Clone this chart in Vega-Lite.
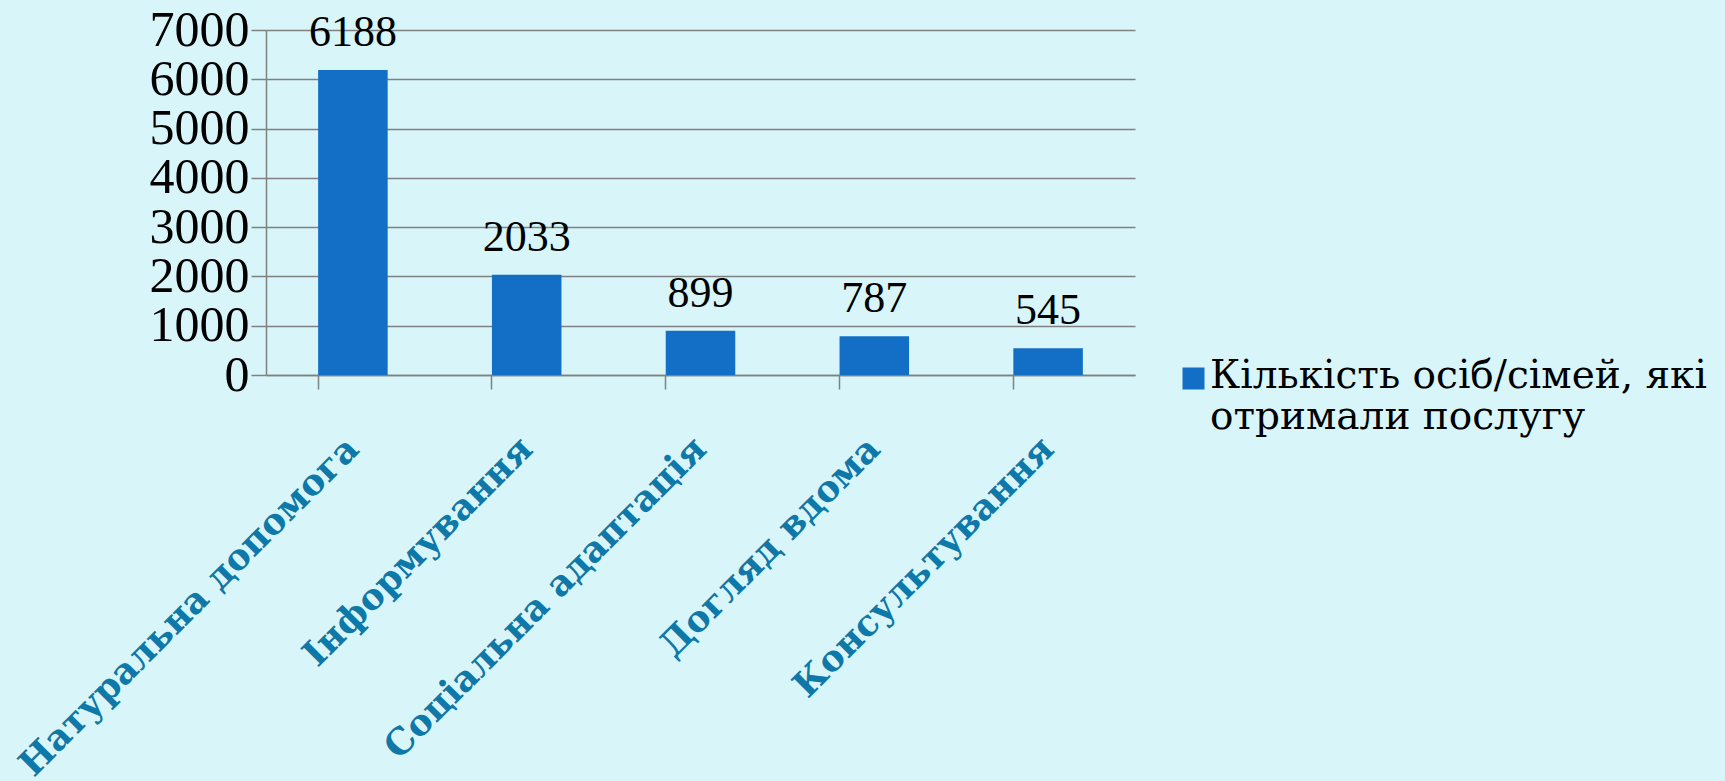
{
  "$schema": "https://vega.github.io/schema/vega-lite/v6.json",
  "autosize": "none",
  "width": 869,
  "height": 345,
  "padding": {"left": 266, "top": 30, "right": 590, "bottom": 406},
  "background": "#D8F6FA",
  "data": {
    "values": [
      {"category": "Натуральна допомога", "value": 6188, "series": "Кількість осіб/сімей, які|отримали послугу"},
      {"category": "Інформування", "value": 2033, "series": "Кількість осіб/сімей, які|отримали послугу"},
      {"category": "Соціальна адаптація", "value": 899, "series": "Кількість осіб/сімей, які|отримали послугу"},
      {"category": "Догляд вдома", "value": 787, "series": "Кількість осіб/сімей, які|отримали послугу"},
      {"category": "Консультування", "value": 545, "series": "Кількість осіб/сімей, які|отримали послугу"}
    ]
  },
  "config": {
    "view": {"stroke": null},
    "font": "Liberation Serif",
    "legend": {"labelFont": "DejaVu Serif"}
  },
  "encoding": {
    "x": {
      "field": "category",
      "type": "nominal",
      "sort": null,
      "scale": {"paddingInner": 0.6, "paddingOuter": 0.3},
      "axis": {
        "title": null,
        "labelAngle": -45,
        "labelAlign": "right",
        "labelBaseline": "middle",
        "labelFont": "DejaVu Serif",
        "labelFontWeight": "bold",
        "labelFontSize": 36,
        "labelColor": "#0E78A8",
        "labelPadding": 54,
        "labelLimit": 1000,
        "labelOverlap": false,
        "bandPosition": 0,
        "tickSize": 14,
        "tickColor": "#808080",
        "tickWidth": 1.5,
        "domainColor": "#808080",
        "domainWidth": 1.5,
        "grid": false
      }
    },
    "y": {
      "field": "value",
      "type": "quantitative",
      "scale": {"domain": [0, 7000], "nice": false},
      "axis": {
        "title": null,
        "values": [0, 1000, 2000, 3000, 4000, 5000, 6000, 7000],
        "format": "d",
        "labelOverlap": false,
        "labelFont": "Liberation Serif",
        "labelFontSize": 50,
        "labelColor": "#000000",
        "labelPadding": 2,
        "tickSize": 15,
        "tickColor": "#808080",
        "tickWidth": 1.5,
        "domainColor": "#808080",
        "domainWidth": 1.5,
        "grid": true,
        "gridColor": "#808080",
        "gridWidth": 1.5
      }
    }
  },
  "layer": [
    {
      "mark": {"type": "bar"},
      "encoding": {
        "color": {
          "field": "series",
          "type": "nominal",
          "scale": {"range": ["#126FC5"]},
          "legend": {
            "orient": "none",
            "legendX": 908,
            "legendY": 307,
            "title": null,
            "symbolType": "M-1,1H1V3H-1Z",
            "symbolSize": 484,
            "symbolStrokeWidth": 0,
            "labelFont": "DejaVu Serif",
            "labelFontSize": 39,
            "labelColor": "#000000",
            "labelLimit": 1000,
            "labelOffset": -3,
            "labelBaseline": "top",
            "labelExpr": "split(datum.label, '|')"
          }
        }
      }
    },
    {
      "mark": {"type": "text", "baseline": "alphabetic", "dy": -24, "fontSize": 44, "font": "Liberation Serif", "color": "#000000"},
      "encoding": {
        "text": {"field": "value", "type": "quantitative", "format": "d"}
      }
    }
  ]
}
